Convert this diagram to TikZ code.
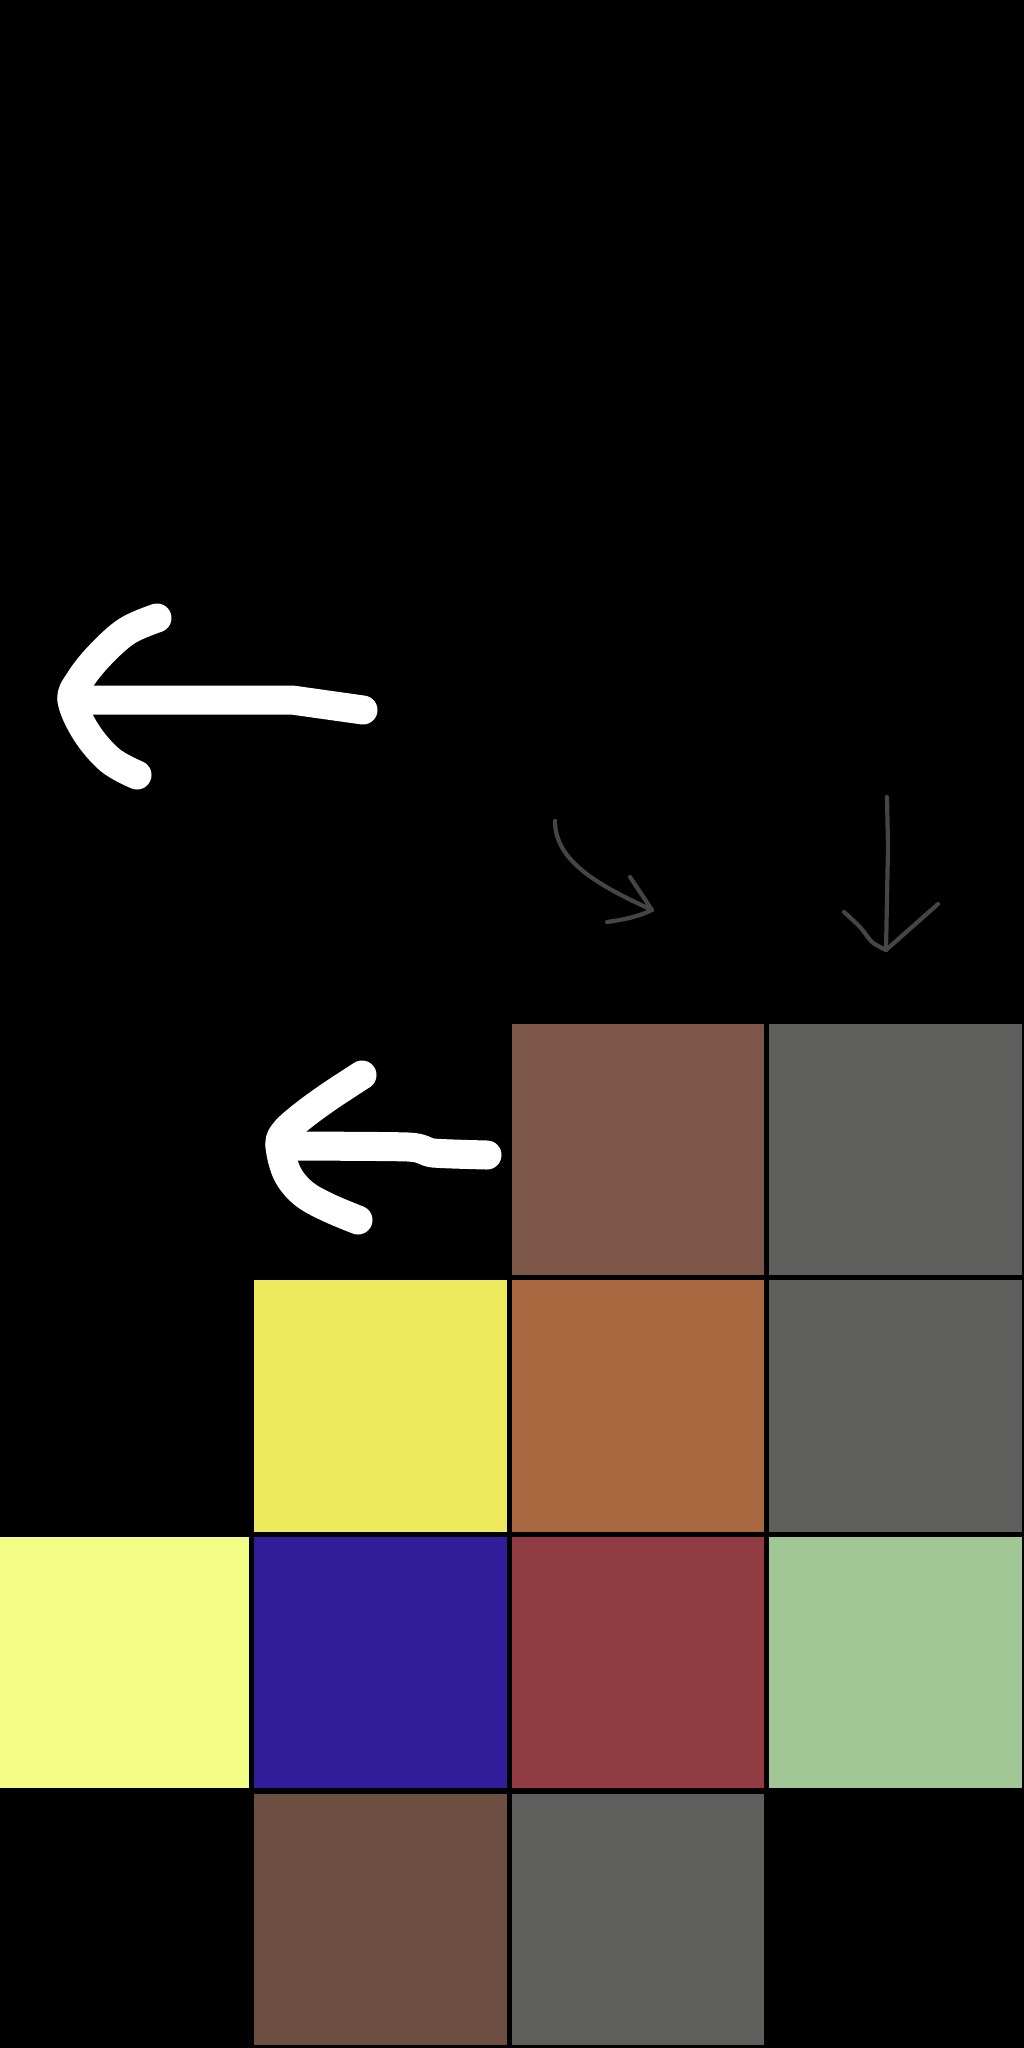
\documentclass[tikz,border=0pt]{standalone}
\usepackage{tikz}
\usetikzlibrary{positioning}

\definecolor{cellbrown}{HTML}{7C5749}
\definecolor{cellgray}{HTML}{5F5F5D}
\definecolor{cellyellow}{HTML}{EDE95D}
\definecolor{cellorange}{HTML}{AA6841}
\definecolor{celllemon}{HTML}{F3FD86}
\definecolor{cellindigo}{HTML}{311C9A}
\definecolor{cellred}{HTML}{913B43}
\definecolor{cellgreen}{HTML}{A1C797}
\definecolor{celldark}{HTML}{6D4F42}
\definecolor{cellgraylow}{HTML}{5E5E5C}
\definecolor{pencilgray}{HTML}{454545}

\begin{document}
\begin{tikzpicture}[
            x=0.01cm, y=-0.01cm,
            node distance=0.04cm,
            cell/.style={rectangle, inner sep=0pt, minimum width=2.52cm, minimum height=2.51cm, draw=none},
            white_stroke/.style={white, line width=0.29cm, line cap=round, line join=round},
            pencil_stroke/.style={pencilgray, line width=0.042cm, line cap=round, line join=round}
        ]

        % canvas
        \fill[black] (0,0) rectangle (1024,2048);
        \useasboundingbox (0,0) rectangle (1024,2048);

        % grid of cells
        \node[cell, fill=cellbrown] (cell_top_b) at (638,1149.5) {};
        \node[cell, fill=cellgray, right=of cell_top_b] (cell_top_c) {};
        \node[cell, fill=cellorange, below=of cell_top_b] (cell_mid_b) {};
        \node[cell, fill=cellyellow, left=of cell_mid_b] (cell_mid_a) {};
        \node[cell, fill=cellgray, right=of cell_mid_b] (cell_mid_c) {};
        \node[cell, fill=cellindigo, below=of cell_mid_a] (cell_low_a) {};
        \node[cell, fill=celllemon, left=of cell_low_a] (cell_low_z) {};
        \node[cell, fill=cellred, right=of cell_low_a] (cell_low_b) {};
        \node[cell, fill=cellgreen, right=of cell_low_b] (cell_low_c) {};
        \node[cell, fill=celldark, below=of cell_low_a] (cell_base_a) {};
        \node[cell, fill=cellgraylow, right=of cell_base_a] (cell_base_b) {};

        % big white arrow
        \coordinate (big_tail) at (363,710);
        \coordinate (big_bend) at (292,700);
        \coordinate (big_tip) at (72,700);
        \coordinate (big_up) at (157,618);
        \coordinate (big_low) at (137,775);
        \draw[white_stroke] (big_tail) -- (big_bend) -- (big_tip);
        \draw[white_stroke] plot[smooth, tension=0.6] coordinates
            {(big_up) (127,631) (100,655) (80,680) (big_tip) (86,732) (110,760) (big_low)};

        % small white arrow
        \coordinate (small_tail) at (487,1155);
        \coordinate (small_bend) at (433,1153);
        \coordinate (small_tip) at (280,1146);
        \coordinate (small_up) at (362,1075);
        \coordinate (small_low) at (358,1220);
        \draw[white_stroke] plot[smooth, tension=0.4] coordinates
            {(small_tail) (small_bend) (408,1147) (small_tip)};
        \draw[white_stroke] plot[smooth, tension=0.6] coordinates
            {(small_up) (327,1098) (300,1118) (284,1133) (small_tip) (287,1173) (303,1193) (327,1207) (small_low)};

        % thin gray arrows
        \coordinate (curve_tail) at (555,821);
        \coordinate (curve_tip) at (652,910);
        \draw[pencil_stroke] (curve_tail) .. controls (555,862) and (600,886) .. (curve_tip);
        \draw[pencil_stroke] (630,877) -- (curve_tip) .. controls (635,918) and (620,920) .. (607,922);

        \coordinate (drop_tail) at (887,797);
        \coordinate (drop_tip) at (886,950);
        \draw[pencil_stroke] (drop_tail) -- (888,847) -- (drop_tip);
        \draw[pencil_stroke] plot[smooth, tension=0.5] coordinates {(844,912) (860,927) (872,942) (drop_tip)};
        \draw[pencil_stroke] (drop_tip) -- (938,904);

        \end{tikzpicture}
\end{document}
